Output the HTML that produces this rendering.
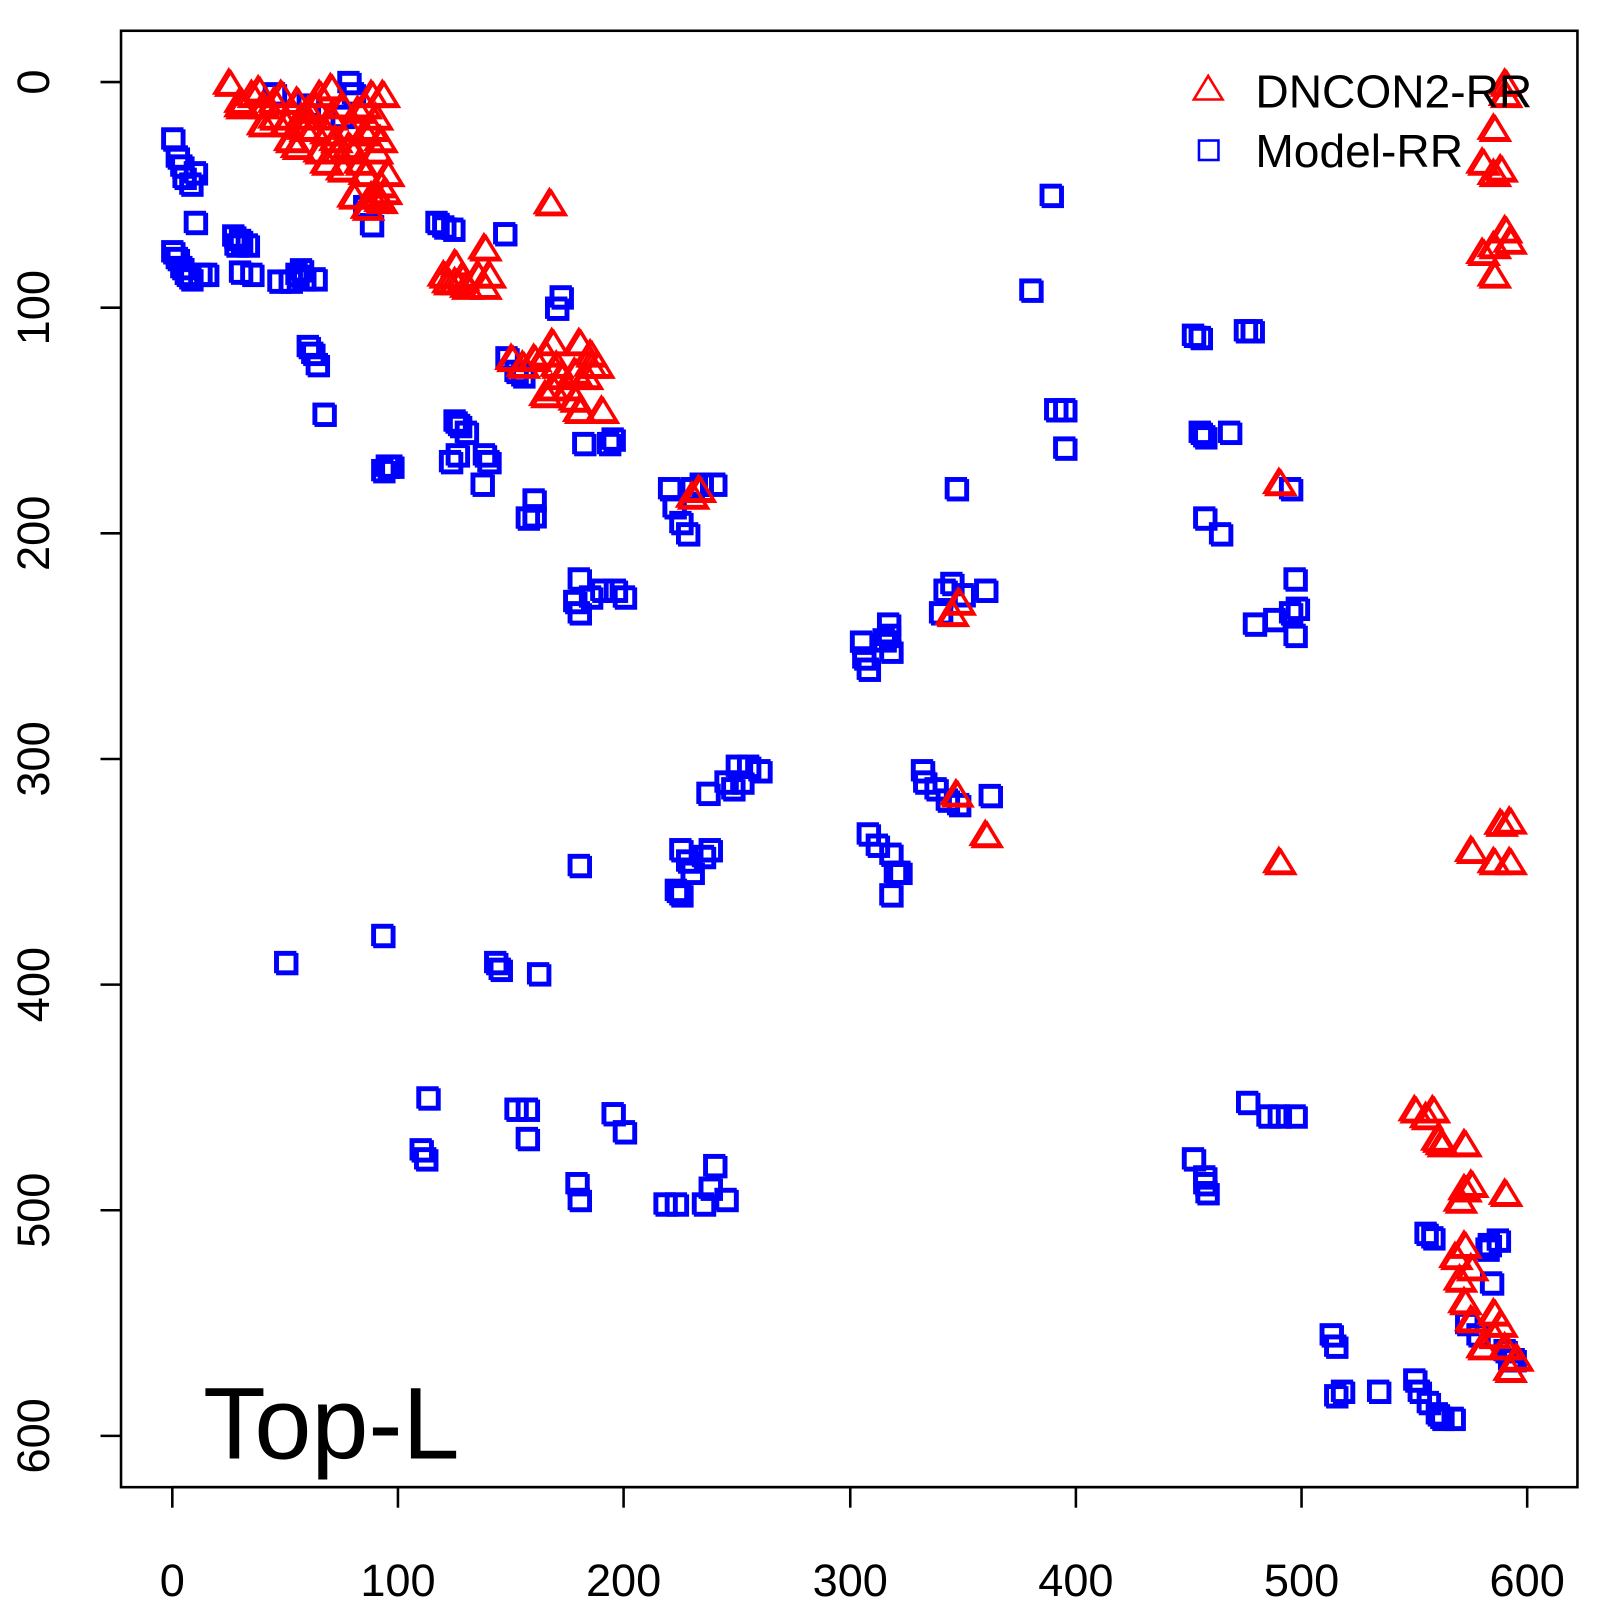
<!DOCTYPE html>
<html><head><meta charset="utf-8"><style>html,body{margin:0;padding:0;background:#fff}</style></head>
<body>
<svg id="s" xmlns="http://www.w3.org/2000/svg" width="1600" height="1600" viewBox="0 0 1560 1560" font-family="Liberation Sans, sans-serif">
<rect x="118" y="30" width="1420" height="1420" fill="none" stroke="#000" stroke-width="2.5"/>
<g stroke="#000" stroke-width="2.5">
<line x1="168" y1="1450" x2="1489" y2="1450"/>
<line x1="168" y1="1450" x2="168" y2="1470"/><line x1="388" y1="1450" x2="388" y2="1470"/><line x1="608" y1="1450" x2="608" y2="1470"/><line x1="829" y1="1450" x2="829" y2="1470"/><line x1="1049" y1="1450" x2="1049" y2="1470"/><line x1="1269" y1="1450" x2="1269" y2="1470"/><line x1="1489" y1="1450" x2="1489" y2="1470"/>
<line x1="118" y1="80" x2="98" y2="80"/><line x1="118" y1="300" x2="98" y2="300"/><line x1="118" y1="520" x2="98" y2="520"/><line x1="118" y1="740" x2="98" y2="740"/><line x1="118" y1="960" x2="98" y2="960"/><line x1="118" y1="1180" x2="98" y2="1180"/><line x1="118" y1="1400" x2="98" y2="1400"/>
</g>
<g font-size="44" text-anchor="middle" fill="#000">
<text x="168" y="1556">0</text><text x="388" y="1556">100</text><text x="608" y="1556">200</text><text x="829" y="1556">300</text><text x="1049" y="1556">400</text><text x="1269" y="1556">500</text><text x="1489" y="1556">600</text>
<text transform="translate(48,80) rotate(-90)">0</text><text transform="translate(48,300) rotate(-90)">100</text><text transform="translate(48,520) rotate(-90)">200</text><text transform="translate(48,740) rotate(-90)">300</text><text transform="translate(48,960) rotate(-90)">400</text><text transform="translate(48,1180) rotate(-90)">500</text><text transform="translate(48,1400) rotate(-90)">600</text>
</g>
<g id="pts"></g>
<polygon points="1178,74 1192,97 1164,97" fill="none" stroke="#f00" stroke-width="2.5"/>
<rect x="1169" y="137" width="19" height="19" fill="none" stroke="#00f" stroke-width="2.5"/>
<text x="1224" y="105" font-size="45">DNCON2-RR</text>
<text x="1224" y="163" font-size="45">Model-RR</text>
<text x="198" y="1422" font-size="100">Top-L</text>
</svg>
<script>
var B=[[0,25],[2,33],[4,37],[5,42],[8,45],[10,40],[10,62],[0,75],[2,78],[4,82],[6,85],[8,87],[12,85],[15,85],[27,68],[28,72],[30,70],[33,72],[30,84],[35,85],[47,88],[52,88],[55,85],[57,83],[58,87],[63,87],[60,117],[62,120],[64,125],[67,147],[93,172],[95,170],[97,170],[117,62],[120,64],[124,65],[125,150],[127,152],[130,155],[123,168],[126,165],[138,165],[140,168],[137,178],[147,67],[160,185],[160,192],[157,193],[172,95],[170,100],[182,160],[193,160],[195,158],[220,180],[222,188],[225,195],[228,200],[230,180],[234,178],[240,178],[180,220],[178,230],[180,235],[185,228],[190,225],[196,225],[200,228],[180,347],[237,315],[245,310],[248,313],[250,303],[252,310],[255,303],[260,305],[225,340],[228,345],[230,350],[235,343],[238,340],[223,358],[225,360],[93,378],[50,390],[143,390],[145,393],[162,395],[113,450],[110,473],[112,477],[152,455],[157,455],[157,468],[195,457],[200,465],[179,488],[180,495],[218,497],[223,497],[235,497],[238,490],[245,495],[240,480],[305,248],[306,255],[308,260],[315,247],[317,245],[318,252],[317,240],[308,333],[312,338],[318,342],[320,350],[318,360],[322,350],[332,305],[333,310],[338,313],[343,318],[348,320],[362,316],[340,235],[342,225],[345,222],[350,227],[360,225],[347,180],[380,92],[389,50],[391,145],[395,145],[395,162],[452,112],[455,113],[475,110],[478,110],[455,155],[457,157],[468,155],[457,193],[464,200],[479,240],[488,238],[495,235],[497,245],[498,233],[497,220],[495,180],[476,452],[485,458],[490,458],[497,458],[452,477],[457,485],[458,492],[457,488],[513,555],[515,560],[515,582],[518,580],[534,580],[550,575],[552,580],[556,585],[560,590],[562,592],[567,592],[555,510],[558,512],[583,515],[587,513],[584,532],[582,517],[573,550],[578,555],[148,122],[152,128],[155,130],[60,10],[75,15],[80,5],[85,55],[88,63],[78,0],[45,5],[590,562],[592,566],[594,566]];
var R=[[25,0],[30,8],[35,5],[40,10],[45,15],[48,5],[50,18],[52,25],[55,28],[55,8],[60,12],[62,20],[65,30],[65,5],[68,35],[70,15],[70,2],[72,25],[75,38],[75,10],[78,20],[80,30],[80,50],[82,12],[85,22],[85,40],[88,50],[88,5],[90,15],[90,30],[92,45],[92,52],[95,40],[93,5],[57,15],[63,10],[45,8],[38,3],[68,22],[73,30],[83,35],[86,55],[40,18],[88,20],[92,25],[85,10],[30,10],[58,20],[78,28],[90,50],[94,48],[167,53],[138,73],[120,85],[125,88],[130,90],[135,85],[138,90],[140,85],[125,80],[122,88],[128,86],[150,122],[155,125],[160,122],[165,120],[168,115],[170,125],[172,130],[165,138],[175,135],[178,140],[180,145],[185,120],[188,125],[180,115],[190,145],[178,128],[183,130],[168,135],[185,125],[230,183],[233,180],[490,177],[345,235],[348,230],[347,315],[360,333],[490,345],[585,20],[590,5],[580,35],[585,40],[588,38],[590,0],[580,75],[585,72],[590,65],[592,70],[585,85],[575,340],[588,328],[592,327],[585,345],[592,345],[550,455],[555,458],[558,455],[560,468],[562,470],[572,470],[572,490],[575,488],[570,495],[590,492],[568,520],[572,515],[575,525],[570,530],[572,540],[575,548],[585,555],[588,550],[590,560],[595,565],[592,570],[580,560],[585,545]];
var g=document.getElementById('pts'),h='';
function sq(x,y){return '<rect x="'+(x-9.5)+'" y="'+(y-9.5)+'" width="19" height="19" fill="none" stroke="#00f" stroke-width="2.8"/>';}
function tr(x,y){return '<polygon points="'+x+','+(y-12)+' '+(x+14)+','+(y+11)+' '+(x-14)+','+(y+11)+'" fill="none" stroke="#f00" stroke-width="2.8"/>';}
B.forEach(function(p){var x=168+p[0]*2.2017,y=80+p[1]*2.2;h+=sq(x,y)+sq(x+2,y+2);});
R.forEach(function(p){var x=168+p[0]*2.2017,y=80+p[1]*2.2;h+=tr(x,y)+tr(x+2,y+2);});
g.innerHTML=h;
</script>
</body></html>
